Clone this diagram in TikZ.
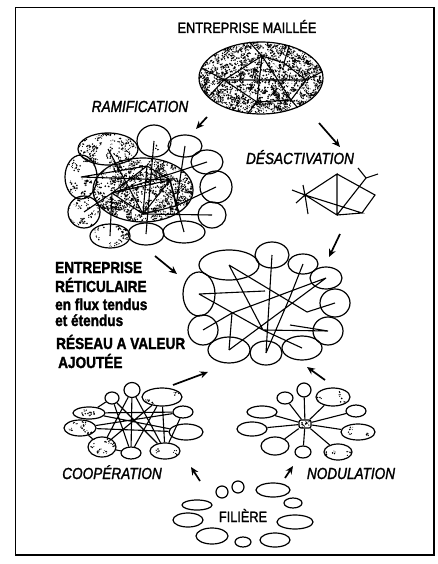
\documentclass[tikz,border=0pt]{standalone}
\usepackage{fontspec}
\setmainfont{Liberation Sans}[FakeStretch=0.85,FakeBold=1.6]
\usetikzlibrary{shapes.geometric,arrows.meta}

\tikzset{
  bub/.style 2 args={ellipse,draw,line width=1.2pt,inner sep=0pt,minimum width=#1pt,minimum height=#2pt},
  speck/.style n args={3}{path picture={
      \foreach \k in {1,...,#1}{
        \pgfmathsetmacro\cx{#2*rand}\pgfmathsetmacro\cy{#3*rand}
        \foreach \j in {1,...,5}
          \fill ([shift={({\cx+2.4*rand},{\cy+2.4*rand})}]path picture bounding box.center) circle ({0.35+0.6*rnd});}}},
  flow/.style={line width=1.7pt,-{Stealth[length=8pt,width=7pt]}},
  link/.style={line width=1.1pt},
  title/.style={anchor=base,inner sep=0pt,font=\fontsize{15}{17}\selectfont},
  lab/.style={anchor=base,inner sep=0pt,font=\fontsize{16}{18}\selectfont\itshape},
  txt/.style={anchor=base west,inner sep=0pt,font=\fontsize{16}{18}\selectfont\bfseries},
}

\begin{document}
\begin{tikzpicture}[x=1pt,y=-1pt]
  \pgfmathsetseed{11}
  \useasboundingbox (0,0) rectangle (437,564);
  \fill[white] (0,0) rectangle (437,564);
  \draw[line width=1.3pt] (15.5,7.5) rectangle (434,555);

  % entreprise maillee
  \node[title] (tmaille) at (247,33) {ENTREPRISE MAILLÉE};
  \node[bub={124}{72},speck={650}{62}{36}] (maille) at (261,78) {};
  \coordinate (m1) at (224,80); \coordinate (m2) at (262,56); \coordinate (m3) at (284,63);
  \coordinate (m4) at (306,80); \coordinate (m5) at (291,100); \coordinate (m6) at (257,102);
  \draw[link] (m1) -- (m2) -- (m6) -- cycle (m2) -- (m3) -- (m4) -- (m5) -- (m6) (m1) -- (m4) (m2) -- (m5);
  \draw[link] (m1) -- (maille.170) (m1) -- (maille.200) (m2) -- (maille.108) (m3) -- (maille.49)
    (m4) -- (maille.6) (m5) -- (maille.321) (m6) -- (maille.249);

  % ramification
  \node[lab] (tramif) at (140,112) {RAMIFICATION};
  \node[bub={60}{32},speck={60}{30}{16}] (ra1) at (108,149) {};
  \node[bub={34}{32},speck={1}{8}{8}] (ra2) at (154,141) {};
  \node[bub={34}{22}] (ra3) at (185,146) {};
  \node[bub={32}{24}] (ra4) at (207,162) {};
  \node[bub={32}{32}] (ra5) at (216,187) {};
  \node[bub={28}{26}] (ra6) at (212,215) {};
  \node[bub={42}{22}] (ra7) at (184,232) {};
  \node[bub={36}{22}] (ra8) at (146,234) {};
  \node[bub={40}{24},speck={16}{20}{12}] (ra9) at (110,236) {};
  \node[bub={32}{32},speck={18}{16}{16}] (ra10) at (84,212) {};
  \node[bub={32}{44},speck={20}{16}{22}] (ra11) at (81,177) {};
  \node[bub={100}{64},speck={420}{50}{32}] (ra0) at (143,190) {};
  \coordinate (ri1) at (112,193); \coordinate (ri2) at (147,166); \coordinate (ri3) at (143,214);
  \coordinate (ri4) at (170,180); \coordinate (ri5) at (176,206);
  \draw[link] (ri1) -- (ri2) -- (ri3) -- cycle (ri2) -- (ri4) -- (ri5) -- (ri3) -- (ri4) (ri1) -- (ri4);
  \draw[link] (ra1.center) -- (ri3) (ra2.center) -- (ra8.center) (ra3.center) -- (ri5)
    (ra4.center) -- (ri1) (ra5.center) -- (ri5) (ra6.center) -- (ri3) (ra7.center) -- (ri4)
    (ra9.center) -- (ri1) (ra10.center) -- (ri1) (ra11.center) -- (ri4) (ra11.center) -- (ri2);

  % desactivation
  \node[lab] (tdesact) at (300,164) {DÉSACTIVATION};
  \coordinate (ds) at (305,195); \coordinate (dt) at (337,174); \coordinate (db) at (337,215);
  \coordinate (dr) at (375,195); \coordinate (dl) at (362,213); \coordinate (dy) at (366,178);
  \coordinate (dy1) at (358,168); \coordinate (dy2) at (378,174);
  \coordinate (dsa) at (292,190); \coordinate (dsb) at (296,203); \coordinate (dsc) at (303,185);
  \coordinate (dsd) at (308,214);
  \draw[link] (ds) -- (dt) -- (db) -- (ds) -- (dl) -- (db) (dt) -- (dr) -- (dl)
    (db) -- (dy) -- (dy1) (dy) -- (dy2);
  \draw[link] (ds) -- (dsa) (ds) -- (dsb) (ds) -- (dsc) (ds) -- (dsd);

  % entreprise reticulaire
  \node[txt] (ent1) at (55,273) {ENTREPRISE};
  \node[txt] (ent2) at (55,292) {RÉTICULAIRE};
  \node[txt] (ent3) at (55,310) {en flux tendus};
  \node[txt] (ent4) at (55,326) {et étendus};
  \node[txt] (ent5) at (56,349) {RÉSEAU A VALEUR};
  \node[txt] (ent6) at (58,368) {AJOUTÉE};
  \node[bub={60}{30}] (ce1) at (229,265) {};
  \node[bub={34}{26}] (ce2) at (272,255) {};
  \node[bub={30}{20}] (ce3) at (303,264) {};
  \node[bub={32}{22}] (ce4) at (326,278) {};
  \node[bub={30}{28}] (ce5) at (335,303) {};
  \node[bub={30}{28}] (ce6) at (328,331) {};
  \node[bub={40}{24}] (ce7) at (302,348) {};
  \node[bub={32}{24}] (ce8) at (266,353) {};
  \node[bub={42}{26}] (ce9) at (229,350) {};
  \node[bub={30}{30}] (ce10) at (203,330) {};
  \node[bub={32}{44}] (ce11) at (199,294) {};
  \coordinate (cj1) at (265,291); \coordinate (cj2) at (290,297); \coordinate (cj3) at (263,330);
  \coordinate (cj4) at (290,325); \coordinate (cj5) at (232,313); \coordinate (cj6) at (307,312);
  \draw[link] (ce11.center) -- (cj1) (ce1.center) -- (cj6) -- (ce5.center) (ce1.center) -- (cj3)
    (ce11.center) -- (cj3) -- (ce6.center) (ce2.center) -- (ce8.center)
    (ce3.center) -- (cj2) -- (ce8.center) (ce4.center) -- (cj5) -- (ce10.center)
    (cj5) -- (ce9.center) (ce9.center) -- (ce4.center) (cj3) -- (ce7.center) (cj4) -- (ce6.center);

  % cooperation
  \node[lab] (tcoop) at (112,479) {COOPÉRATION};
  \node[bub={14}{12}] (co1) at (112,398) {};
  \node[bub={16}{15}] (co2) at (132,390) {};
  \node[bub={40}{18},speck={3}{16}{7}] (co3) at (162,397) {};
  \node[bub={20}{12}] (co4) at (183,412) {};
  \node[bub={34}{16}] (co5) at (186,432) {};
  \node[bub={30}{16},speck={2}{12}{6}] (co6) at (165,451) {};
  \node[bub={20}{12}] (co7) at (131,453) {};
  \node[bub={28}{20},speck={8}{11}{8}] (co8) at (102,447) {};
  \node[bub={32}{16},speck={6}{13}{6}] (co9) at (80,428) {};
  \node[bub={32}{12},speck={4}{13}{4}] (co10) at (89,413) {};
  \draw[link] (co1) -- (co7) (co1) -- (co6) (co1) -- (co10) (co2) -- (co7) (co2) -- (co6)
    (co2) -- (co8) (co3) -- (co7) (co3) -- (co8) (co3) -- (co6) (co10) -- (co4) (co10) -- (co5)
    (co9) -- (co4) (co9) -- (co5) (co8) -- (co7) (co6) -- (co4) (co9) -- (co8);

  % nodulation
  \node[lab] (tnodul) at (351,479) {NODULATION};
  \node[draw,rounded corners=2pt,line width=1.2pt,inner sep=0pt,minimum width=12pt,minimum height=8pt,
    speck={4}{4}{2}] (hub) at (305,424) {};
  \node[bub={16}{12}] (nd1) at (285,398) {};
  \node[bub={14}{14}] (nd2) at (304,390) {};
  \node[bub={34}{18},speck={3}{14}{6}] (nd3) at (333,397) {};
  \node[bub={20}{12}] (nd4) at (356,411) {};
  \node[bub={34}{16},speck={3}{14}{6}] (nd5) at (358,432) {};
  \node[bub={28}{16},speck={3}{11}{6}] (nd6) at (338,452) {};
  \node[bub={16}{12}] (nd7) at (303,452) {};
  \node[bub={28}{18}] (nd8) at (275,446) {};
  \node[bub={30}{14}] (nd9) at (252,429) {};
  \node[bub={30}{12}] (nd10) at (262,412) {};
  \foreach \n in {1,...,10}
    \draw[link] (hub) -- (nd\n);

  % filiere
  \node[title] (tfil) at (243,522) {FILIÈRE};
  \node[bub={12}{12}] (fi1) at (222,492) {};
  \node[bub={12}{12}] (fi2) at (238,487) {};
  \node[bub={34}{14}] (fi3) at (273,490) {};
  \node[bub={18}{10}] (fi4) at (293,503) {};
  \node[bub={36}{14}] (fi5) at (295,522) {};
  \node[bub={30}{14}] (fi6) at (275,540) {};
  \node[bub={16}{10}] (fi7) at (243,542) {};
  \node[bub={32}{16}] (fi8) at (212,536) {};
  \node[bub={30}{14}] (fi9) at (188,520) {};
  \node[bub={30}{10}] (fi10) at (197,505) {};

  % fleches
  \coordinate (a1s) at (207,117); \coordinate (a1e) at (196,129);
  \coordinate (a2s) at (319,123); \coordinate (a2e) at (340,147);
  \coordinate (a3s) at (155,256); \coordinate (a3e) at (177,274);
  \coordinate (a4s) at (340,234); \coordinate (a4e) at (329,257);
  \coordinate (a5s) at (173,385); \coordinate (a5e) at (208,372);
  \coordinate (a6s) at (325,380); \coordinate (a6e) at (307,367);
  \coordinate (a7s) at (200,481); \coordinate (a7e) at (191,467);
  \coordinate (a8s) at (285,478); \coordinate (a8e) at (293,466);
  \foreach \a in {1,...,8}
    \draw[flow] (a\a s) -- (a\a e);
\end{tikzpicture}
\end{document}
